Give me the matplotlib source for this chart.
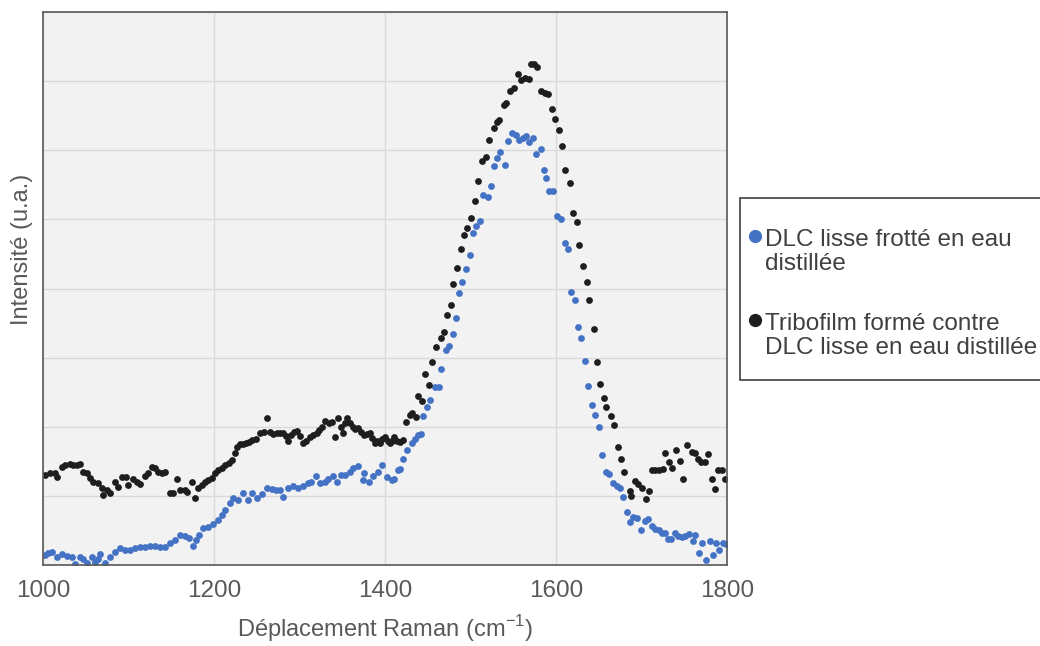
import matplotlib
matplotlib.use("Agg")
import matplotlib.pyplot as plt
from matplotlib.lines import Line2D
from matplotlib.patches import Rectangle

# Raman spectra (shift in cm-1, intensity in a.u.)
blue_shift = [1002, 1006, 1011, 1016, 1022, 1028, 1034, 1037, 1043, 1047, 1051, 1057, 1061, 1064,
              1067, 1072, 1078, 1084, 1090, 1096, 1102, 1108, 1113, 1119, 1125, 1131, 1137, 1143,
              1148, 1154, 1160, 1166, 1171, 1175, 1179, 1182, 1187, 1193, 1199, 1205, 1209, 1213,
              1219, 1222, 1228, 1234, 1240, 1244, 1250, 1256, 1262, 1268, 1273, 1277, 1281, 1286,
              1292, 1298, 1304, 1310, 1314, 1319, 1324, 1330, 1333, 1339, 1344, 1349, 1353, 1359,
              1363, 1368, 1374, 1376, 1381, 1386, 1392, 1397, 1402, 1408, 1411, 1415, 1418, 1421,
              1426, 1431, 1435, 1439, 1442, 1445, 1449, 1453, 1458, 1463, 1466, 1471, 1475, 1479,
              1483, 1487, 1490, 1495, 1499, 1503, 1507, 1511, 1515, 1520, 1524, 1528, 1531, 1535,
              1540, 1544, 1548, 1553, 1557, 1561, 1565, 1569, 1573, 1577, 1582, 1586, 1588, 1592,
              1597, 1601, 1606, 1610, 1614, 1618, 1622, 1626, 1629, 1634, 1638, 1642, 1646, 1650,
              1654, 1658, 1662, 1667, 1671, 1675, 1678, 1683, 1686, 1690, 1695, 1699, 1704, 1708,
              1712, 1716, 1720, 1724, 1727, 1731, 1735, 1739, 1743, 1747, 1751, 1755, 1760, 1763,
              1767, 1771, 1775, 1780, 1784, 1787, 1791, 1795, 1799]
blue_int = [0.14, 0.17, 0.19, 0.12, 0.16, 0.13, 0.12, 0.01, 0.12, 0.09, 0.03, 0.12, 0.04, 0.08,
            0.16, 0.03, 0.12, 0.19, 0.25, 0.22, 0.22, 0.25, 0.26, 0.26, 0.27, 0.27, 0.26, 0.26,
            0.32, 0.36, 0.43, 0.42, 0.39, 0.27, 0.36, 0.43, 0.53, 0.55, 0.59, 0.65, 0.72, 0.79,
            0.90, 0.97, 0.94, 1.04, 0.94, 1.04, 0.97, 1.03, 1.11, 1.10, 1.08, 1.08, 0.98, 1.11,
            1.14, 1.11, 1.14, 1.18, 1.20, 1.29, 1.18, 1.20, 1.24, 1.29, 1.20, 1.30, 1.30, 1.34,
            1.40, 1.43, 1.23, 1.33, 1.20, 1.29, 1.34, 1.45, 1.27, 1.23, 1.24, 1.37, 1.39, 1.54,
            1.66, 1.76, 1.82, 1.88, 1.90, 2.16, 2.29, 2.39, 2.57, 2.57, 2.84, 3.11, 3.17, 3.34,
            3.58, 3.93, 4.10, 4.28, 4.48, 4.80, 4.91, 4.98, 5.35, 5.32, 5.49, 5.77, 5.89, 5.98,
            5.79, 6.14, 6.25, 6.22, 6.15, 6.17, 6.20, 6.12, 6.17, 5.94, 6.02, 5.71, 5.60, 5.41,
            5.41, 5.05, 5.00, 4.66, 4.57, 3.95, 3.83, 3.45, 3.28, 2.95, 2.59, 2.32, 2.17, 2.00,
            1.59, 1.34, 1.32, 1.19, 1.15, 1.11, 0.98, 0.76, 0.62, 0.70, 0.68, 0.51, 0.63, 0.66,
            0.56, 0.52, 0.51, 0.47, 0.46, 0.38, 0.37, 0.47, 0.42, 0.40, 0.42, 0.45, 0.35, 0.44,
            0.18, 0.32, 0.07, 0.34, 0.15, 0.32, 0.22, 0.32, 0.31]

black_shift = [1002, 1008, 1014, 1016, 1022, 1026, 1032, 1035, 1040, 1043, 1047, 1051, 1055, 1058,
               1064, 1069, 1070, 1075, 1078, 1084, 1088, 1092, 1097, 1099, 1105, 1110, 1113, 1119,
               1123, 1127, 1131, 1134, 1139, 1143, 1148, 1152, 1157, 1160, 1166, 1168, 1174, 1178,
               1181, 1186, 1189, 1193, 1198, 1201, 1205, 1209, 1213, 1217, 1221, 1224, 1227, 1230,
               1234, 1238, 1241, 1245, 1249, 1254, 1258, 1262, 1265, 1269, 1274, 1277, 1281, 1284,
               1286, 1290, 1293, 1297, 1300, 1304, 1308, 1312, 1316, 1320, 1323, 1326, 1330, 1334,
               1338, 1341, 1345, 1348, 1351, 1353, 1356, 1359, 1362, 1365, 1368, 1372, 1376, 1379,
               1382, 1385, 1388, 1391, 1394, 1397, 1400, 1403, 1406, 1408, 1411, 1414, 1417, 1421,
               1424, 1429, 1431, 1436, 1439, 1443, 1447, 1451, 1455, 1460, 1465, 1469, 1473, 1477,
               1480, 1484, 1489, 1492, 1496, 1501, 1505, 1509, 1514, 1518, 1522, 1527, 1531, 1533,
               1539, 1542, 1546, 1551, 1555, 1559, 1564, 1568, 1571, 1574, 1578, 1582, 1587, 1591,
               1595, 1599, 1604, 1607, 1611, 1616, 1620, 1624, 1627, 1632, 1636, 1639, 1644, 1648,
               1652, 1656, 1659, 1664, 1668, 1672, 1676, 1680, 1686, 1688, 1692, 1696, 1701, 1705,
               1709, 1712, 1716, 1721, 1725, 1728, 1732, 1736, 1740, 1745, 1749, 1753, 1759, 1763,
               1766, 1770, 1774, 1778, 1782, 1786, 1790, 1794, 1798]
black_int = [1.30, 1.33, 1.33, 1.27, 1.42, 1.45, 1.46, 1.45, 1.45, 1.46, 1.34, 1.33, 1.26, 1.20,
             1.18, 1.11, 1.01, 1.08, 1.04, 1.20, 1.13, 1.27, 1.27, 1.16, 1.24, 1.20, 1.17, 1.29,
             1.33, 1.42, 1.40, 1.34, 1.33, 1.34, 1.04, 1.04, 1.24, 1.08, 1.08, 1.05, 1.20, 0.97,
             1.11, 1.16, 1.20, 1.23, 1.26, 1.33, 1.37, 1.40, 1.45, 1.48, 1.52, 1.62, 1.70, 1.75,
             1.75, 1.76, 1.78, 1.81, 1.83, 1.91, 1.93, 2.12, 1.92, 1.90, 1.91, 1.91, 1.91, 1.87,
             1.79, 1.88, 1.92, 1.94, 1.86, 1.76, 1.80, 1.85, 1.88, 1.91, 1.95, 1.99, 2.08, 2.05,
             2.07, 1.85, 2.12, 2.00, 1.91, 2.05, 2.12, 2.06, 1.99, 1.97, 1.98, 1.92, 1.88, 1.90,
             1.91, 1.84, 1.76, 1.80, 1.76, 1.82, 1.85, 1.80, 1.76, 1.80, 1.85, 1.80, 1.78, 1.81,
             2.07, 2.17, 2.20, 2.14, 2.44, 2.37, 2.76, 2.61, 2.93, 3.15, 3.29, 3.37, 3.61, 3.76,
             4.07, 4.29, 4.57, 4.78, 4.88, 5.02, 5.27, 5.56, 5.85, 5.90, 6.15, 6.32, 6.41, 6.44,
             6.66, 6.68, 6.85, 6.90, 7.11, 7.02, 7.05, 7.03, 7.25, 7.25, 7.20, 6.85, 6.83, 6.82,
             6.59, 6.45, 6.29, 6.06, 5.71, 5.52, 5.09, 4.96, 4.63, 4.32, 4.10, 3.83, 3.41, 2.93,
             2.62, 2.42, 2.29, 2.15, 2.03, 1.71, 1.54, 1.34, 1.07, 1.00, 1.22, 1.17, 1.12, 0.96,
             1.07, 1.38, 1.38, 1.38, 1.39, 1.62, 1.49, 1.40, 1.66, 1.51, 1.24, 1.73, 1.63, 1.62,
             1.54, 1.49, 1.49, 1.60, 1.25, 1.10, 1.37, 1.38, 1.25]

labels = ["DLC lisse frotté en eau\ndistillée",
          "Tribofilm formé contre\nDLC lisse en eau distillée"]
colors = ["#4472c4", "#1e1e1e"]
xticks = [1000, 1200, 1400, 1600, 1800]

plt.rcParams["font.family"] = ["Liberation Sans", "DejaVu Sans"]
plt.rcParams["mathtext.fontset"] = "custom"
plt.rcParams["mathtext.rm"] = "Liberation Sans"

W, H = 1040, 646
fig = plt.figure(figsize=(W / 100, H / 100), dpi=100)
ax = fig.add_axes([43 / W, 1 - 565 / H, 684 / W, 553 / H])
ax.set_facecolor("#f2f2f2")

ax.scatter(blue_shift, blue_int, s=24, color=colors[0], linewidths=0)
ax.scatter(black_shift, black_int, s=24, color=colors[1], linewidths=0)

ax.set_xlim(1000, 1800)
ax.set_ylim(0, 8)
ax.set_xticks(xticks)
ax.set_yticks(range(0, 9))
ax.set_yticklabels([])
ax.tick_params(length=0, labelsize=17.5, colors="#595959", pad=11)
ax.grid(True, color="#d9d9d9", linewidth=1)
ax.set_axisbelow(True)
for sp in ax.spines.values():
    sp.set_color("#595959")
    sp.set_linewidth(1.2)

ax.set_xlabel(r"Déplacement Raman (cm$^{\mathrm{-1}}$)", fontsize=17, color="#595959", labelpad=8)
ax.set_ylabel("Intensité (u.a.)", fontsize=17, color="#595959")
ax.yaxis.set_label_coords(-0.014, 0.57)

# legend drawn by hand so the marker sits on the first line of each label
box = Rectangle((740 / W, 1 - 380 / H), 330 / W, 182 / H, transform=fig.transFigure,
                facecolor="white", edgecolor="#404040", linewidth=1.2)
fig.add_artist(box)
for i, (lab, col) in enumerate(zip(labels, colors)):
    yc = 236 + 84 * i
    fig.add_artist(Line2D([755 / W], [1 - yc / H], marker="o", markersize=8.5, color=col,
                          linestyle="none", transform=fig.transFigure))
    # va="baseline" anchors the last line here, so go one line down from the first
    fig.text(765 / W, 1 - (yc + 8.5 + 26) / H, lab, fontsize=17.5, color="#404040",
             va="baseline", ha="left", linespacing=1.15)

fig.savefig("out.png", dpi=100)
